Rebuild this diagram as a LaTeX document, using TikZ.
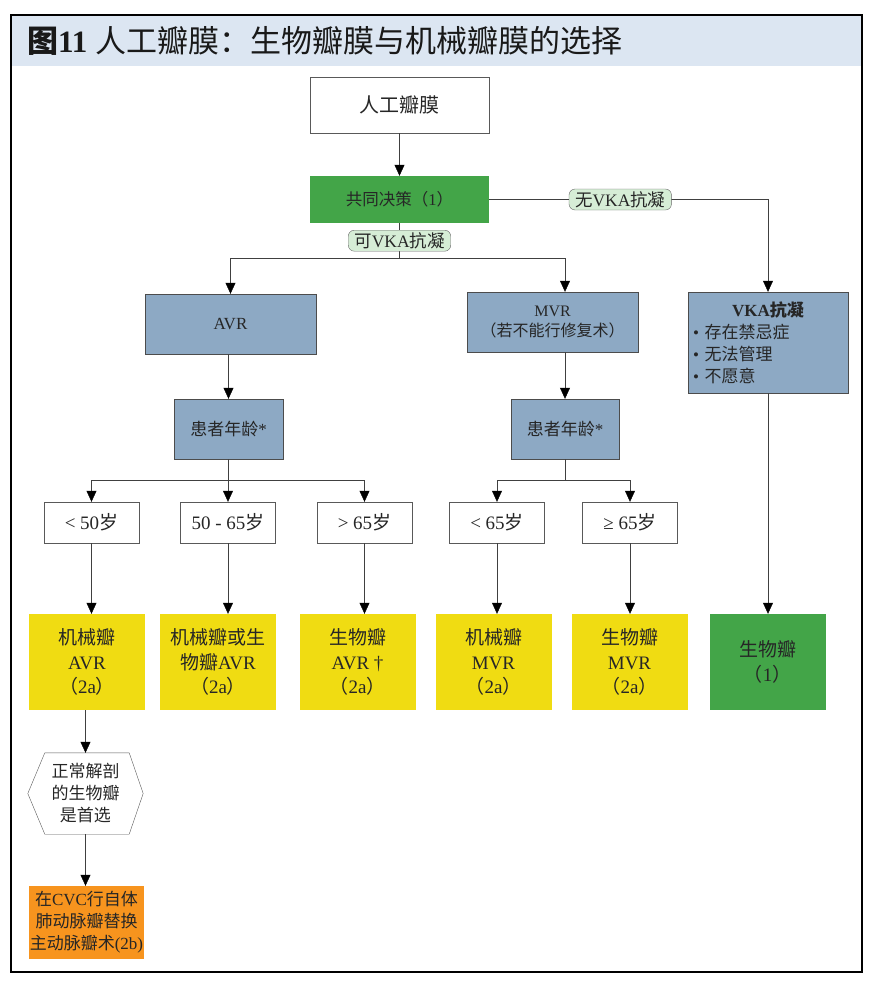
\documentclass[tikz,border=0pt]{standalone}
\usepackage{fontspec}
\setmainfont{Liberation Serif}
\newfontfamily\cjk{Noto Sans CJK SC}
\usetikzlibrary{arrows.meta}

% switch to the CJK font for CJK characters
\XeTeXinterchartokenstate=1
\newXeTeXintercharclass\cjkclass
\newcount\cjkcnt
\def\setcjkrange#1#2{\cjkcnt=#1\relax
  \loop\XeTeXcharclass\cjkcnt=\cjkclass
  \ifnum\cjkcnt<#2\relax\advance\cjkcnt by 1\repeat}
\setcjkrange{"3000}{"303F}
\setcjkrange{"4E00}{"9FFF}
\setcjkrange{"FF00}{"FFEF}
\XeTeXinterchartoks 0 \cjkclass={\cjk}
\XeTeXinterchartoks \cjkclass 0={\rmfamily}
\XeTeXinterchartoks 4095 \cjkclass={\cjk}
\XeTeXinterchartoks \cjkclass 4095={\rmfamily}

\definecolor{titleblue}{RGB}{220,230,242}
\definecolor{boxblue}{RGB}{141,169,196}
\definecolor{valvegreen}{RGB}{67,165,72}
\definecolor{valveyellow}{RGB}{240,220,18}
\definecolor{valveorange}{RGB}{247,148,30}
\definecolor{pillgreen}{RGB}{214,237,214}

\tikzstyle{plainbox}=[draw=black!65, fill=white, text=black!85, align=center]
\tikzstyle{bluebox}=[draw=black!70, fill=boxblue, text=black!85, align=center]
\tikzstyle{greenbox}=[fill=valvegreen, text=black!85, align=center]
\tikzstyle{agebox}=[plainbox, minimum width=95pt, minimum height=41pt, font=\fontsize{19}{23}\selectfont]
\tikzstyle{resbox}=[fill=valveyellow, text=black!85, align=center, minimum width=116pt, minimum height=96pt, font=\fontsize{19}{24.5}\selectfont]
\tikzstyle{pill}=[draw=black!60, fill=pillgreen, rounded corners=6pt, inner xsep=6pt, inner ysep=1pt, minimum height=21pt, text=black!85, font=\fontsize{17.5}{20}\selectfont]
\tikzstyle{conn}=[draw=black!75]
\tikzstyle{arr}=[draw=black!75, -{Triangle[length=11pt,width=10pt,color=black]}]

\begin{document}
\begin{tikzpicture}[x=1pt, y=-1pt]
  \useasboundingbox (0,0) rectangle (874,986);

  % frame and title
  \fill[titleblue] (11,15) rectangle (862,66);
  \draw[line width=1.6pt] (11,15) rectangle (862,972);
  \node[anchor=west, inner sep=0pt, text=black!90, font=\fontsize{31}{34}\selectfont] (title) at (27,41)
    {\textbf{图11} 人工瓣膜：生物瓣膜与机械瓣膜的选择};

  % top
  \node[plainbox, minimum width=179pt, minimum height=56pt, font=\fontsize{20}{24}\selectfont] (valve) at (399.5,105) {人工瓣膜};
  \node[greenbox, minimum width=179pt, minimum height=47pt, font=\fontsize{16.5}{20}\selectfont] (decide) at (399.5,199.5) {共同决策（1）};

  % second row
  \node[bluebox, minimum width=171pt, minimum height=60pt, font=\fontsize{17}{21}\selectfont] (avr) at (230.5,324) {AVR};
  \node[bluebox, minimum width=171pt, minimum height=60pt, font=\fontsize{16}{20}\selectfont] (mvr) at (552.5,322) {MVR\\（若不能行修复术）};
  \node[bluebox, minimum height=101pt, text width=150pt, inner xsep=5pt, align=left, font=\fontsize{17}{22}\selectfont] (vka) at (768,342.5)
    {\hfill\textbf{VKA抗凝}\hfill\null\\• 存在禁忌症\\• 无法管理\\• 不愿意};

  % patient age
  \node[bluebox, minimum width=109pt, minimum height=60pt, font=\fontsize{17}{21}\selectfont] (pa1) at (228.5,429) {患者年龄*};
  \node[bluebox, minimum width=108pt, minimum height=60pt, font=\fontsize{17}{21}\selectfont] (pa2) at (565,429) {患者年龄*};

  \node[agebox] (a1) at (91.5,522.5) {< 50岁};
  \node[agebox] (a2) at (228,522.5) {50 - 65岁};
  \node[agebox] (a3) at (364.5,522.5) {> 65岁};
  \node[agebox] (a4) at (497,522.5) {< 65岁};
  \node[agebox] (a5) at (630,522.5) {≥ 65岁};

  % results
  \node[resbox] (r1) at (87,662) {机械瓣\\AVR\\（2a）};
  \node[resbox] (r2) at (218,662) {机械瓣或生\\物瓣AVR\\（2a）};
  \node[resbox] (r3) at (357.5,662) {生物瓣\\AVR †\\（2a）};
  \node[resbox] (r4) at (493.5,662) {机械瓣\\MVR\\（2a）};
  \node[resbox] (r5) at (629.5,662) {生物瓣\\MVR\\（2a）};
  \node[resbox, fill=valvegreen] (r6) at (767.5,662) {生物瓣\\（1）};

  % normal anatomy
  \node[minimum width=115pt, minimum height=81pt, align=center, text=black!85, font=\fontsize{17}{22}\selectfont] (hex) at (85.5,793.5)
    {正常解剖\\的生物瓣\\是首选};
  \draw[draw=black!65] (hex.west) -- ([xshift=17pt]hex.north west) -- ([xshift=-14pt]hex.north east)
    -- (hex.east) -- ([xshift=-14pt]hex.south east) -- ([xshift=17pt]hex.south west) -- cycle;
  \node[fill=valveorange, minimum width=115pt, minimum height=73pt, inner xsep=1pt, align=center, text=black!85, font=\fontsize{17}{22}\selectfont] (ross) at (86.5,922.5)
    {在CVC行自体\\肺动脉瓣替换\\主动脉瓣术(2b)};

  % connections
  \draw[arr] (valve) -- (decide);
  \draw[arr] (decide.east) -- node[pill, pos=0.47] {无VKA抗凝} (decide.east -| vka.north) -- (vka.north);
  \draw[conn] (decide.south) -- node[pill] {可VKA抗凝} ++(0,35) coordinate (split1);
  \draw[arr] (split1) -| (avr.north);
  \draw[arr] (split1) -| (pa2.north |- mvr.north);
  \draw[arr] (avr.south -| pa1.north) -- (pa1.north);
  \draw[arr] (mvr.south -| pa2.north) -- (pa2.north);
  \draw[conn] (pa1.south) -- ++(0,21) coordinate (split2);
  \draw[conn] (pa2.south) -- ++(0,21) coordinate (split3);
  \foreach \n in {a1,a2,a3} \draw[arr] (split2) -| (\n.north);
  \foreach \n in {a4,a5} \draw[arr] (split3) -| (\n.north);
  \foreach \a/\r in {a1/r1,a2/r2,a3/r3,a4/r4,a5/r5}
    \draw[arr] (\a.south) -- (\a.south |- \r.north);
  \draw[arr] (vka.south) -- (vka.south |- r6.north);
  \draw[arr] (r1.south -| hex.north) -- (hex.north);
  \draw[arr] (hex.south) -- (hex.south |- ross.north);

\end{tikzpicture}
\end{document}
